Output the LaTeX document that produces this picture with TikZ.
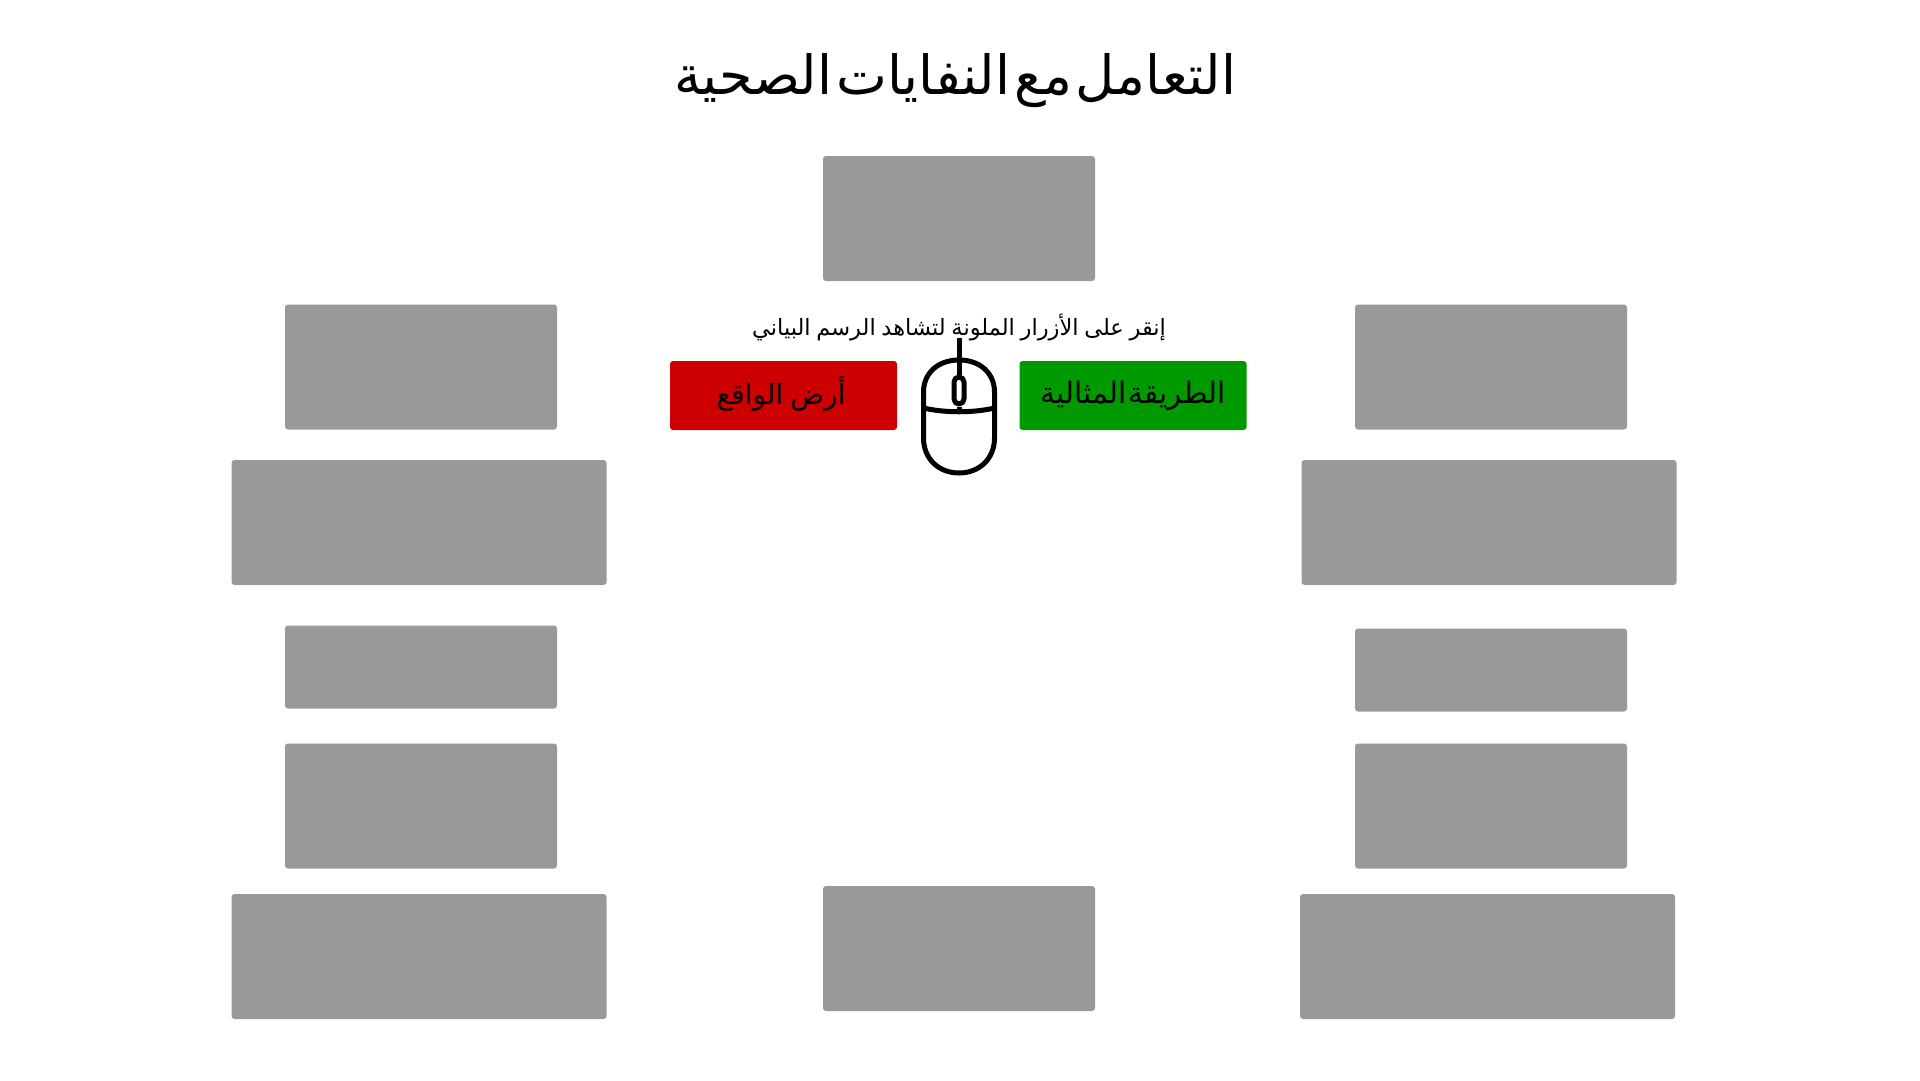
\documentclass[tikz,border=0pt]{standalone}
\usepackage{fontspec}
\usetikzlibrary{positioning}
\TeXXeTstate=1
\newfontfamily\arabicfont[Script=Arabic]{DejaVu Sans}
\newcommand{\arsize}[2]{\arabicfont\fontsize{#1}{#1}\selectfont\spaceskip #2\relax}
\definecolor{panelGrey}{HTML}{999999}
\definecolor{buttonRed}{HTML}{CC0000}
\definecolor{buttonGreen}{HTML}{009900}
\tikzset{
    every picture/.style={semithick},
    greybox/.style={fill=panelGrey, rounded corners=3pt, inner sep=0pt, text width=#1, minimum height=125pt},
    greybox/.default=272pt,
    widebox/.style={greybox=375pt},
    shortbox/.style={greybox, minimum height=83pt},
    buttonbox/.style={fill=#1, rounded corners=3pt, inner sep=0pt, minimum width=227pt, minimum height=69pt},
    arlabel/.style 2 args={font=\arsize{#1}{#2}, inner sep=0pt, text=black},
    mouseline/.style={line width=5pt, line cap=round, line join=round},
}
\begin{document}
\begin{tikzpicture}[x=1pt, y=-1pt]
    \useasboundingbox (0,0) rectangle (1920,1080);
    \node[arlabel={54}{4pt}] (title) at (955,81) {\beginR التعامل مع النفايات الصحية\endR};
    \node[greybox] (top) at (959,218.5) {};
    \node[greybox] (bottom) at (959,948.5) {};
    % left column
    \node[greybox] (left1) at (421,367) {};
    \node[widebox] (left2) at (419,522.5) {};
    \node[shortbox] (left3) at (421,667) {};
    \node[greybox] (left4) at (421,806) {};
    \node[widebox] (left5) at (419,956.5) {};
    % right column
    \node[greybox] (right1) at (1491,367) {};
    \node[widebox] (right2) at (1489,522.5) {};
    \node[shortbox] (right3) at (1491,670) {};
    \node[greybox] (right4) at (1491,806) {};
    \node[widebox] (right5) at (1487.5,956.5) {};
    % buttons
    \node[arlabel={22.5}{5.7pt}] (hint) at (959,327) {\beginR إنقر على الأزرار الملونة لتشاهد الرسم البياني\endR};
    \node[buttonbox=buttonRed] (real) at (783.5,395.5) {};
    \node[buttonbox=buttonGreen] (ideal) at (1133,395.5) {};
    \node[arlabel={28}{7pt}] (realtext) at (781,394) {\beginR أرض الواقع\endR};
    \node[arlabel={29.5}{2.4pt}] (idealtext) at (1133,396) {\beginR الطريقة المثالية\endR};
    % mouse
    \coordinate (wiretop) at (959,338);
    \node[mouseline, draw=black, rounded corners=5pt, minimum width=10pt, minimum height=27pt, inner sep=0pt] (wheel) at (959,390.5) {};
    \draw[mouseline] (959,360) .. controls (937,360) and (923.5,374) .. (923.5,392) -- (923.5,438) .. controls (923.5,459) and (939,473) .. (959,473) .. controls (979,473) and (994.5,459) .. (994.5,438) -- (994.5,392) .. controls (994.5,374) and (981,360) .. (959,360) -- cycle;
    \draw[mouseline] (923.5,408) .. controls (945,413) and (973,413) .. (994.5,408);
    \draw[mouseline, line cap=butt] (wiretop) -- (wheel.north);
    \draw[mouseline, line cap=butt] (wheel.south) -- (959,412);
\end{tikzpicture}
\end{document}
